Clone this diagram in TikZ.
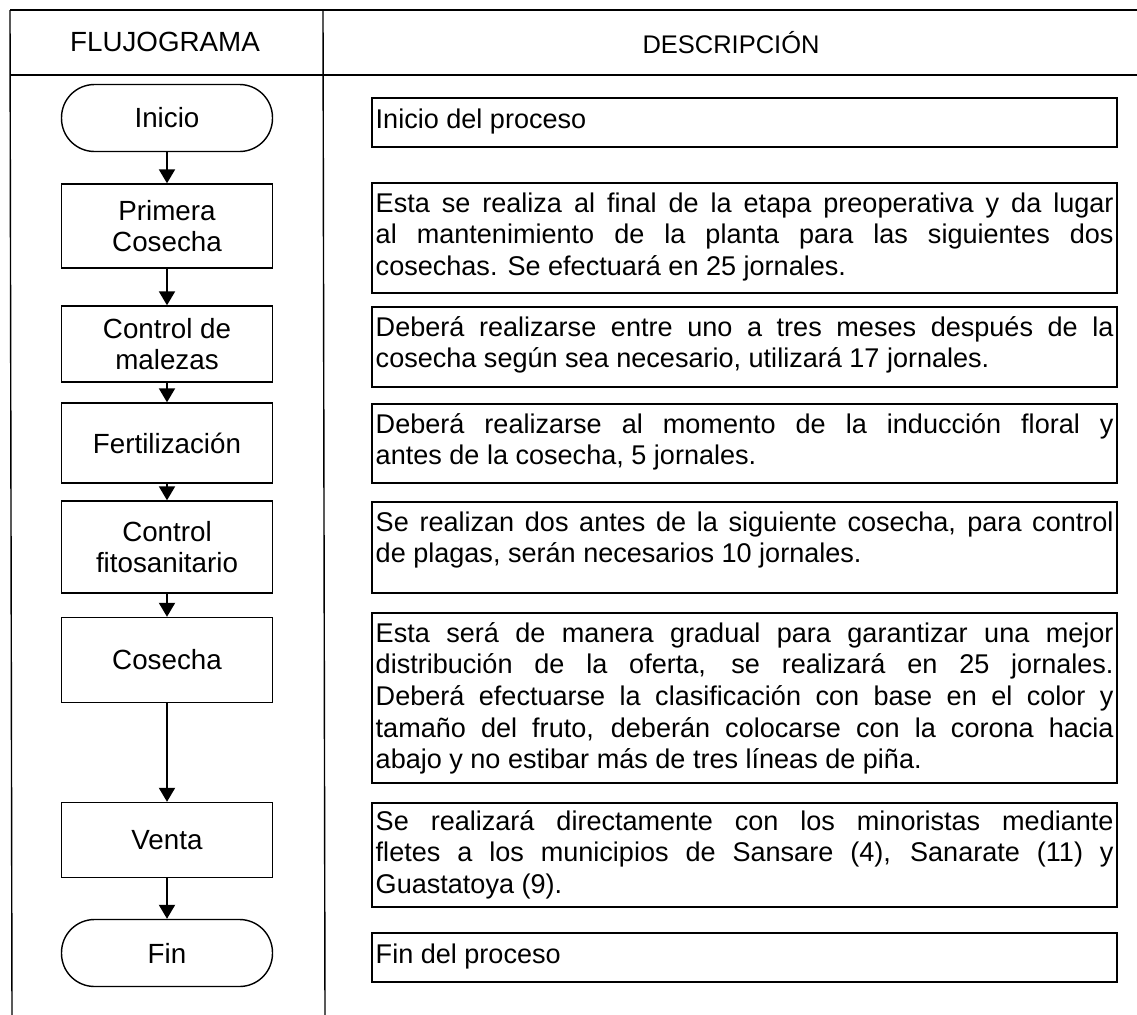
\documentclass[tikz,border=0pt]{standalone}
\usepackage{fontspec}
\setmainfont{Liberation Sans}
\usetikzlibrary{arrows.meta}
\hyphenpenalty=10000
\tolerance=9999
\begin{document}
\begin{tikzpicture}[x=0.02cm, y=-0.02cm,
  paso/.style={draw, line width=0.8pt, minimum width=4.22cm, align=center, font=\fontsize{15.8}{18}\selectfont},
  extremo/.style={paso, rounded corners=0.66cm, minimum height=1.34cm},
  caja/.style={draw, line width=0.8pt, minimum width=14.9cm},
  texto/.style={anchor=base west, inner sep=0pt, text width=14.76cm, align=justify, font=\fontsize{15.4}{18}\selectfont},
  flecha/.style={line width=1.1pt, -{Triangle[length=0.28cm,width=0.32cm]}}]
\useasboundingbox (0,0) rectangle (1137,1015);
\draw[line width=0.8pt] (10,10) -- (1137,10);
\draw[line width=0.8pt] (10,75) -- (1137,75);
\draw[line width=0.8pt] (10,10) -- (12,1015);
\draw[line width=0.8pt] (323,10) -- (325,1015);
\node[font=\fontsize{15.8}{18}\selectfont] (flujo) at (165,42) {FLUJOGRAMA};
\node[font=\fontsize{14.5}{18}\selectfont] (descr) at (731,43) {DESCRIPCIÓN};

\node[extremo] (inicio) at (167,118) {Inicio};
\node[paso, minimum height=1.68cm] (primera) at (167,226) {Primera\\Cosecha};
\node[paso, minimum height=1.52cm] (malezas) at (167,344) {Control de\\malezas};
\node[paso, minimum height=1.6cm] (fert) at (167,443) {Fertilización};
\node[paso, minimum height=1.84cm] (fito) at (167,547) {Control\\fitosanitario};
\node[paso, minimum height=1.7cm] (cosecha) at (167,660) {Cosecha};
\node[paso, minimum height=1.5cm] (venta) at (167,840) {Venta};
\node[extremo] (fin) at (167,953) {Fin};
\draw[flecha] (inicio) -- (primera);
\draw[flecha] (primera) -- (malezas);
\draw[flecha] (malezas) -- (fert);
\draw[flecha] (fert) -- (fito);
\draw[flecha] (fito) -- (cosecha);
\draw[flecha] (cosecha) -- (venta);
\draw[flecha] (venta) -- (fin);

\node[caja, minimum height=0.98cm] (d1) at (744.5,122.5) {};
\node[caja, minimum height=2.2cm] (d2) at (744.5,238) {};
\node[caja, minimum height=1.6cm] (d3) at (744.5,347) {};
\node[caja, minimum height=1.58cm] (d4) at (744.5,443.5) {};
\node[caja, minimum height=1.82cm] (d5) at (744.5,547.5) {};
\node[caja, minimum height=3.4cm] (d6) at (744.5,698) {};
\node[caja, minimum height=2.08cm] (d7) at (744.5,855) {};
\node[caja, minimum height=0.98cm] (d8) at (744.5,957.5) {};
\node[texto] (t1) at ([shift={(4,31)}]d1.north west) {Inicio del proceso};
\node[texto] (t2) at ([shift={(4,30)}]d2.north west) {Esta se realiza al final de la etapa preoperativa y da lugar\linebreak al mantenimiento de la planta para las siguientes dos\linebreak cosechas. Se efectuará en 25 jornales.};
\node[texto] (t3) at ([shift={(4,30)}]d3.north west) {Deberá realizarse entre uno a tres meses después de la\linebreak cosecha según sea necesario, utilizará 17 jornales.};
\node[texto] (t4) at ([shift={(4,30)}]d4.north west) {Deberá realizarse al momento de la inducción floral y\linebreak antes de la cosecha, 5 jornales.};
\node[texto] (t5) at ([shift={(4,30)}]d5.north west) {Se realizan dos antes de la siguiente cosecha, para control\linebreak de plagas, serán necesarios 10 jornales.};
\node[texto] (t6) at ([shift={(4,30)}]d6.north west) {Esta será de manera gradual para garantizar una mejor\linebreak distribución de la oferta, se realizará en 25 jornales.\linebreak Deberá efectuarse la clasificación con base en el color y\linebreak tamaño del fruto, deberán colocarse con la corona hacia\linebreak abajo y no estibar más de tres líneas de piña.};
\node[texto] (t7) at ([shift={(4,28)}]d7.north west) {Se realizará directamente con los minoristas mediante\linebreak fletes a los municipios de Sansare (4), Sanarate (11) y\linebreak Guastatoya (9).};
\node[texto] (t8) at ([shift={(4,31)}]d8.north west) {Fin del proceso};
\end{tikzpicture}
\end{document}
